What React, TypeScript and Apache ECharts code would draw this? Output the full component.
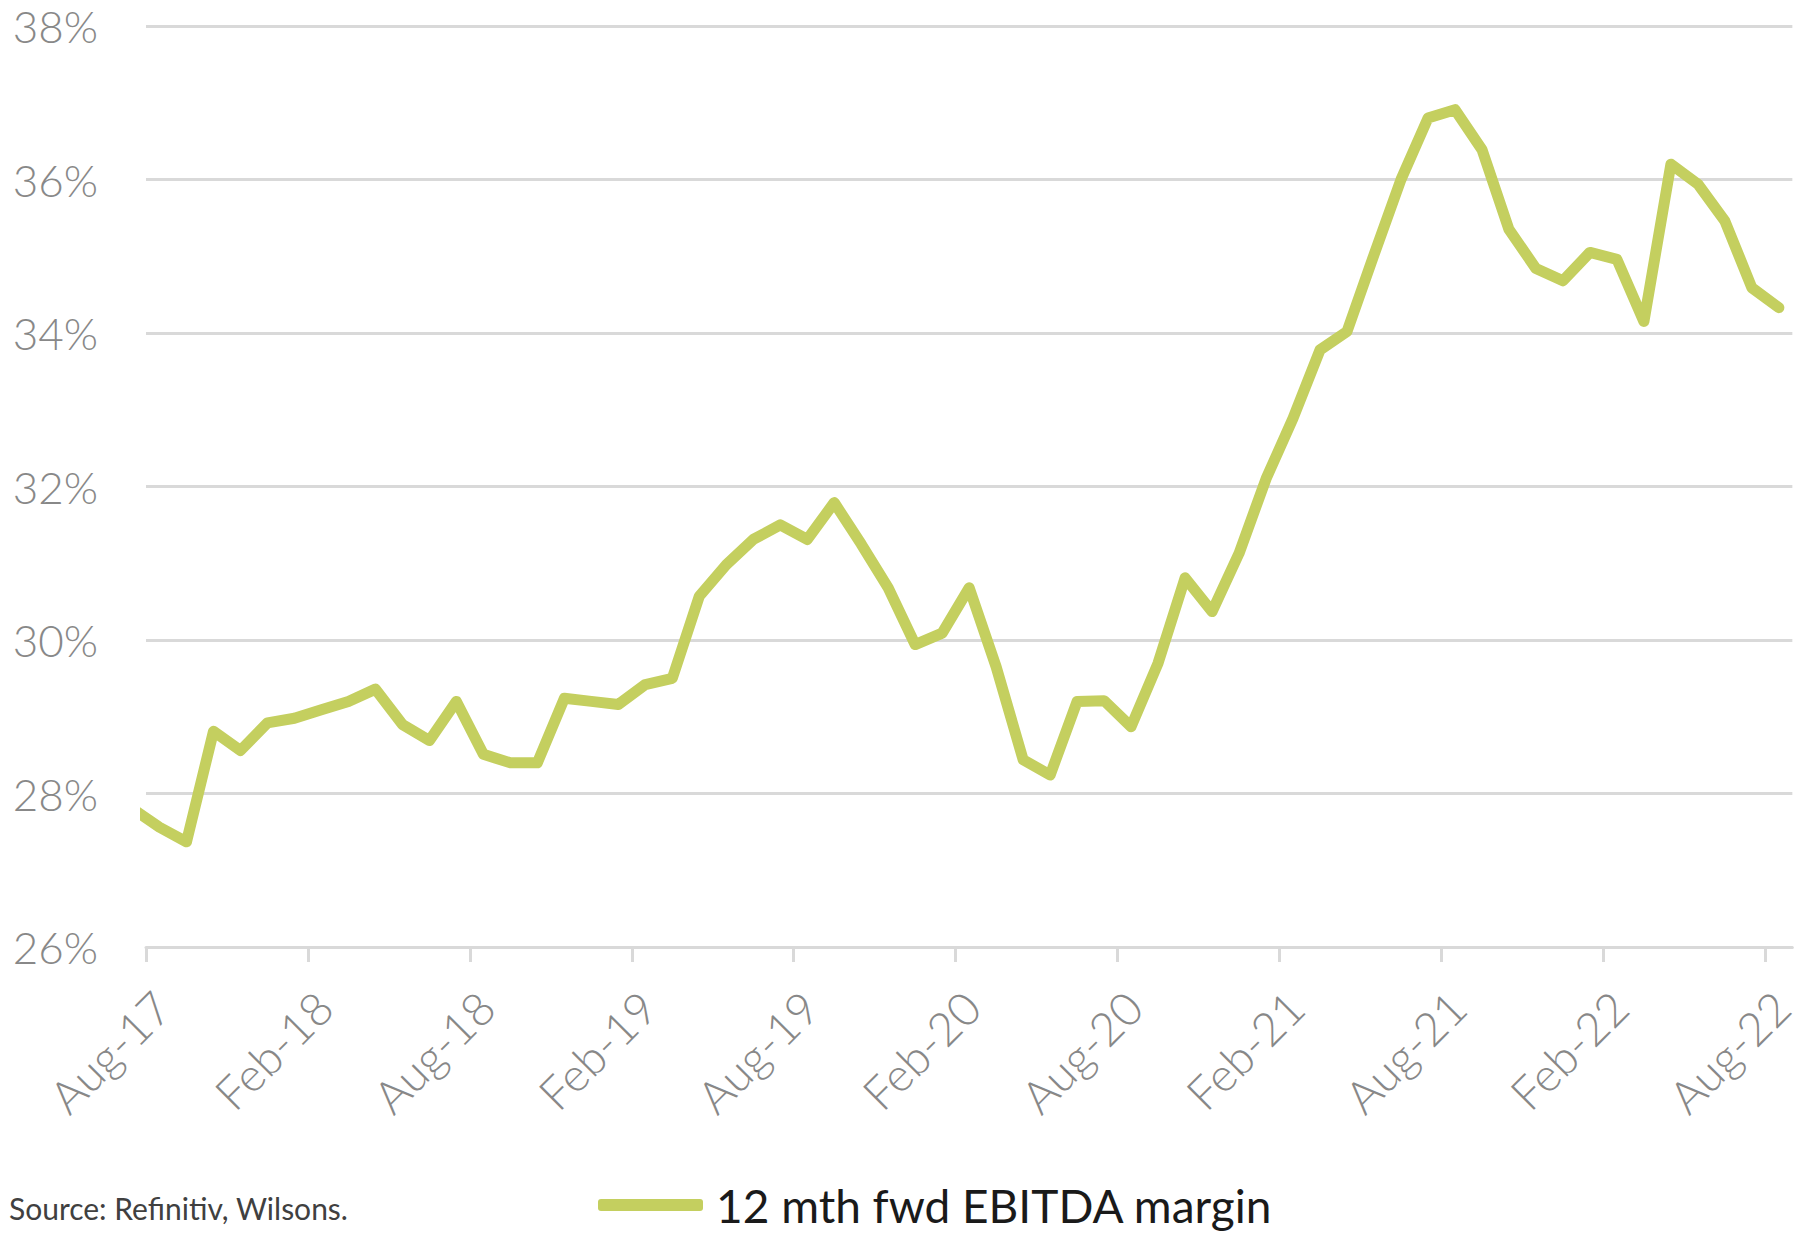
import React, { useEffect, useRef } from "react";
import * as echarts from "echarts";

// Monthly observations (mid-month); Jul-17 sits just before the axis start and is clipped
const months = [
  "Jul-17", "Aug-17", "Sep-17", "Oct-17", "Nov-17", "Dec-17",
  "Jan-18", "Feb-18", "Mar-18", "Apr-18", "May-18", "Jun-18", "Jul-18", "Aug-18", "Sep-18", "Oct-18", "Nov-18", "Dec-18",
  "Jan-19", "Feb-19", "Mar-19", "Apr-19", "May-19", "Jun-19", "Jul-19", "Aug-19", "Sep-19", "Oct-19", "Nov-19", "Dec-19",
  "Jan-20", "Feb-20", "Mar-20", "Apr-20", "May-20", "Jun-20", "Jul-20", "Aug-20", "Sep-20", "Oct-20", "Nov-20", "Dec-20",
  "Jan-21", "Feb-21", "Mar-21", "Apr-21", "May-21", "Jun-21", "Jul-21", "Aug-21", "Sep-21", "Oct-21", "Nov-21", "Dec-21",
  "Jan-22", "Feb-22", "Mar-22", "Apr-22", "May-22", "Jun-22", "Jul-22", "Aug-22",
];

const ebitdaMargin = [
  27.8, 27.56, 27.37, 28.81, 28.56, 28.92,
  28.98, 29.09, 29.2, 29.36, 28.9, 28.69, 29.2, 28.51, 28.4, 28.4, 29.24, 29.2,
  29.16, 29.42, 29.5, 30.57, 30.98, 31.31, 31.5, 31.31, 31.79, 31.25, 30.68, 29.94,
  30.09, 30.68, 29.65, 28.44, 28.24, 29.2, 29.21, 28.87, 29.7, 30.81, 30.37, 31.13,
  32.1, 32.89, 33.78, 34.02, 35.02, 36.0, 36.8, 36.91, 36.39, 35.35, 34.84, 34.68,
  35.05, 34.96, 34.15, 36.2, 35.94, 35.46, 34.59, 34.33,
];

const tickLabels = [
  "Aug-17", "Feb-18", "Aug-18", "Feb-19", "Aug-19",
  "Feb-20", "Aug-20", "Feb-21", "Aug-21", "Feb-22", "Aug-22",
];

const seriesName = "12 mth fwd EBITDA margin";
const sourceText = "Source: Refinitiv, Wilsons.";

export default function App() {
  const ref = useRef<HTMLDivElement>(null);

  useEffect(() => {
    if (!ref.current) return;
    const chart = echarts.init(ref.current, undefined, { renderer: "svg" });

    // x position in months from the start of Aug-17; observations sit mid-month
    const data = months.map((m, i) => [i - 0.5, ebitdaMargin[i]]);
    const tickPos = tickLabels.map((_, j) => j * 6);
    const labelAt = (v: number) => {
      const j = Math.round(v / 6);
      return Math.abs(v - j * 6) < 1e-6 && tickLabels[j] ? tickLabels[j] : "";
    };

    chart.setOption({
      animation: false,
      backgroundColor: "#ffffff",
      grid: { left: 146, right: 6, top: 26, bottom: 290, containLabel: false },
      xAxis: {
        type: "value",
        min: 0,
        max: 61,
        splitLine: { show: false },
        axisLine: { show: true, lineStyle: { color: "#d9d9d9", width: 3 } },
        axisTick: {
          show: true,
          length: 15,
          customValues: tickPos,
          lineStyle: { color: "#d9d9d9", width: 3 },
        },
        axisLabel: {
          customValues: tickPos,
          formatter: (v: number) => labelAt(v),
          rotate: 45,
          margin: 36,
          verticalAlign: "top",
          color: "#888888",
          fontFamily: "Lato",
          fontWeight: 300,
          fontSize: 46,
        },
      },
      yAxis: {
        type: "value",
        min: 26,
        max: 38,
        interval: 2,
        axisLine: { show: false },
        axisTick: { show: false },
        splitLine: { show: true, lineStyle: { color: "#d9d9d9", width: 3 } },
        axisLabel: {
          formatter: "{value}%",
          margin: 48,
          color: "#888888",
          fontFamily: "Lato",
          fontWeight: 300,
          fontSize: 44,
        },
      },
      legend: {
        show: true,
        left: 593,
        top: 1177,
        icon: "roundRect",
        itemWidth: 105,
        itemHeight: 12,
        textStyle: {
          color: "#1a1a1a",
          fontFamily: "Lato",
          fontSize: 46,
          padding: [0, 0, 0, 8],
        },
        data: [seriesName],
      },
      graphic: [
        {
          type: "text",
          left: 9,
          top: 1193,
          style: {
            text: sourceText,
            fill: "#404040",
            font: "30px Lato",
          },
        },
      ],
      series: [
        {
          name: seriesName,
          type: "line",
          data,
          showSymbol: false,
          symbol: "none",
          clip: true,
          itemStyle: { color: "#c4cf5f" },
          lineStyle: { color: "#c4cf5f", width: 11, cap: "round", join: "round" },
        },
      ],
    });

    return () => chart.dispose();
  }, []);

  return (
    <div
      ref={ref}
      style={{ position: "absolute", left: 0, top: 0, width: 1800, height: 1237 }}
    />
  );
}
